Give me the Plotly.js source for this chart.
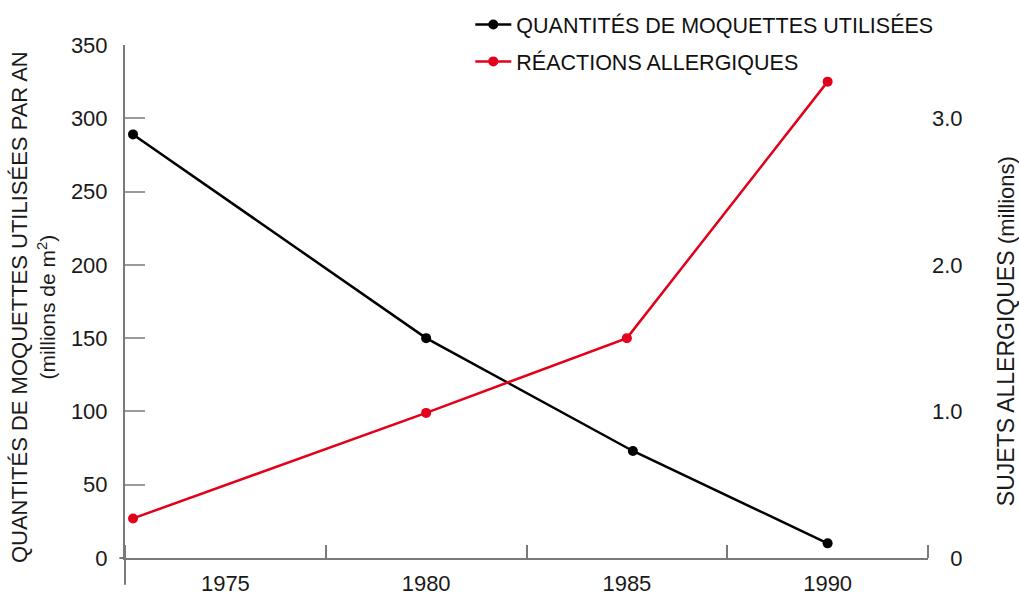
<!DOCTYPE html>
<html><head><meta charset="utf-8">
<script src="https://cdn.plot.ly/plotly-3.0.1.min.js"></script>
<style>html,body{margin:0;padding:0;background:#fff}#chart{width:1019px;height:597px}</style>
</head><body><div id="chart"></div>
<script>
// Data
const carpetYears = [1972.7, 1980, 1985.15, 1990];
const carpetValues = [289, 150, 73, 10];          // millions de m² par an
const allergyYears = [1972.7, 1980, 1985, 1990];
const allergyValues = [0.27, 0.99, 1.5, 3.25];    // millions de sujets
const xTickVals = [1975, 1980, 1985, 1990];
const xTickText = ['1975', '1980', '1985', '1990'];
const leftTickVals = [0, 50, 100, 150, 200, 250, 300, 350];
const rightTickVals = [0, 1, 2, 3];
const rightTickText = ['\u2007\u20080', '1.0', '2.0', '3.0'];

const FONT = '"Liberation Sans", Arial, Helvetica, sans-serif';
const RED = '#e3001b';
const AXIS = '#7a7a7a';
const TXT = '#1a1a1a';

const traces = [
  {x: carpetYears, y: carpetValues, name: 'QUANTITÉS DE MOQUETTES UTILISÉES',
   mode: 'lines+markers', line: {color: '#000', width: 2.5}, marker: {color: '#000', size: 10},
   legendgroup: 'a', yaxis: 'y', hoverinfo: 'skip'},
  {x: allergyYears, y: allergyValues, name: 'RÉACTIONS ALLERGIQUES',
   mode: 'lines+markers', line: {color: RED, width: 2.5}, marker: {color: RED, size: 10},
   legendgroup: 'b', yaxis: 'y2', hoverinfo: 'skip'}
];

const layout = {
  width: 1019, height: 597,
  margin: {l: 125, r: 91, t: 45, b: 39, autoexpand: false},
  paper_bgcolor: '#fff', plot_bgcolor: '#fff',
  font: {family: FONT, size: 22, color: TXT},
  showlegend: true,
  legend: {x: 0.43, xanchor: 'left', y: 1.08, yanchor: 'top', tracegroupgap: 6, itemwidth: 36,
           font: {family: FONT, size: 21.5, color: '#111'}, bgcolor: 'rgba(0,0,0,0)'},
  xaxis: {range: [1972.5, 1992.5], tickvals: xTickVals, ticktext: xTickText, ticks: '',
          showgrid: false, zeroline: false, showline: true, linecolor: AXIS, linewidth: 2,
          ticklabelstandoff: 5, tickfont: {size: 22, color: TXT},
          minor: {tick0: 1972.5, dtick: 5, ticks: 'inside', ticklen: 13, tickwidth: 2, tickcolor: AXIS, showgrid: false}},
  yaxis: {range: [0, 350], tickvals: leftTickVals, ticks: 'inside', ticklen: 20, tickwidth: 2,
          tickcolor: '#9a9a9a', showgrid: false, zeroline: false, showline: true, linecolor: AXIS,
          linewidth: 2, ticklabelstandoff: 11, tickfont: {size: 22, color: TXT}},
  yaxis2: {range: [0, 3.5], overlaying: 'y', side: 'right', tickvals: rightTickVals, ticktext: rightTickText,
           ticks: '', showgrid: false, zeroline: false, showline: false, ticklabelstandoff: 3,
           tickfont: {size: 22, color: TXT}},
  shapes: [
    {type: 'line', xref: 'x domain', yref: 'y domain', x0: 0, x1: 0, y0: 0, y1: -0.052,
     line: {color: AXIS, width: 2}},
    {type: 'line', xref: 'x domain', yref: 'y domain', x0: -0.007, x1: 0, y0: 0, y1: 0,
     line: {color: AXIS, width: 2}}
  ],
  annotations: [
    {text: 'QUANTITÉS DE MOQUETTES UTILISÉES PAR AN<br><span style="font-size:21px">(millions de m<sup>2</sup>)</span>',
     xref: 'paper', yref: 'paper', x: -0.114, y: 0.49, xanchor: 'center', yanchor: 'middle',
     textangle: -90, showarrow: false, borderpad: 0, font: {family: FONT, size: 22, color: TXT}},
    {text: 'SUJETS ALLERGIQUES <span style="font-size:22px">(millions)</span>',
     xref: 'paper', yref: 'paper', x: 1.097, y: 0.442, xanchor: 'center', yanchor: 'middle',
     textangle: -90, showarrow: false, borderpad: 0, font: {family: FONT, size: 23, color: TXT}}
  ]
};

Plotly.newPlot('chart', traces, layout, {displayModeBar: false, staticPlot: true});
</script></body></html>
